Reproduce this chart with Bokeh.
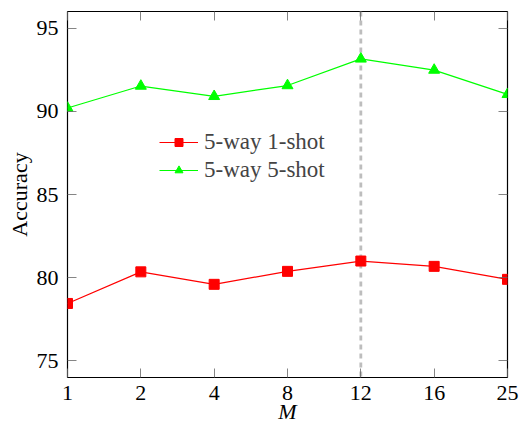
from bokeh.plotting import figure
from bokeh.models import LinearAxis, FixedTicker, Span, Range1d, Legend
from bokeh.embed import file_html
from bokeh.resources import INLINE

M_labels = ["1", "2", "4", "8", "12", "16", "25"]
acc_1shot = [78.45, 80.35, 79.6, 80.38, 81.0, 80.68, 79.9]
acc_5shot = [90.2, 91.52, 90.9, 91.55, 93.15, 92.48, 91.02]
y_ticks = [75, 80, 85, 90, 95]
highlight = "12"

FONT = "Liberation Serif"
FS = "22px"

x = list(range(len(M_labels)))

p = figure(width=521, height=429, output_backend="svg", toolbar_location=None,
           x_range=Range1d(0, len(M_labels) - 1), y_range=Range1d(74, 96),
           x_axis_location=None, y_axis_location=None)
p.min_border_left = 67
p.min_border_right = 14
p.min_border_top = 11
p.min_border_bottom = 52
p.outline_line_color = "black"
p.outline_line_width = 1.2
p.xgrid.visible = False
p.ygrid.visible = False
p.background_fill_color = "white"
p.border_fill_color = "white"

label_map = {i: s for i, s in enumerate(M_labels)}

def style(ax, labels=True):
    ax.major_tick_in = 9
    ax.major_tick_out = 0
    ax.minor_tick_line_color = None
    ax.major_tick_line_color = "#666666"
    ax.major_tick_line_width = 0.8
    ax.axis_line_color = None
    ax.major_label_text_font = FONT
    ax.major_label_text_font_size = FS if labels else "0px"
    ax.major_label_text_color = "black"
    ax.axis_label_text_font = FONT
    ax.axis_label_text_font_size = FS
    ax.axis_label_text_font_style = "normal"
    ax.axis_label_text_color = "black"

xb = LinearAxis(ticker=FixedTicker(ticks=x), major_label_overrides=label_map,
                axis_label="M")
style(xb)
xb.axis_label_text_font_style = "italic"
xb.major_label_standoff = 8
xb.axis_label_standoff = -4
p.add_layout(xb, "below")

yl = LinearAxis(ticker=FixedTicker(ticks=y_ticks), axis_label="Accuracy")
style(yl)
yl.major_label_standoff = 9
yl.axis_label_standoff = 2
p.add_layout(yl, "left")

xt = LinearAxis(ticker=FixedTicker(ticks=x), major_label_overrides={i: "" for i in x})
style(xt, labels=False)
xt.major_label_standoff = 0
xt.axis_label_standoff = 0
p.add_layout(xt, "above")

yr = LinearAxis(ticker=FixedTicker(ticks=y_ticks), major_label_overrides={t: "" for t in y_ticks})
style(yr, labels=False)
yr.major_label_standoff = 0
yr.axis_label_standoff = 0
p.add_layout(yr, "right")

span = Span(location=M_labels.index(highlight), dimension="height",
            line_color="#bdbdbd", line_width=2.8, line_dash="5 4", level="underlay")
p.add_layout(span)

r1l = p.line(x, acc_1shot, line_color="#ff0000", line_width=1.2)
r1s = p.scatter(x, acc_1shot, marker="square", size=10, fill_color="#ff0000", line_color="#ff0000")
r2l = p.line(x, acc_5shot, line_color="#00ff00", line_width=1.2)
r2s = p.scatter(x, acc_5shot, marker="triangle", size=11, fill_color="#00ff00", line_color="#00ff00")

legend = Legend(items=[("5-way 1-shot", [r1l, r1s]), ("5-way 5-shot", [r2l, r2s])],
                location=(92, 194))
legend.label_text_font = FONT
legend.label_text_font_size = "23px"
legend.glyph_width = 39
legend.glyph_height = 20
legend.label_height = 20
legend.label_standoff = 6
legend.spacing = 2
legend.padding = 2
legend.margin = 0
legend.border_line_color = None
legend.background_fill_alpha = 0
p.add_layout(legend, "center")

open("out.html", "w").write(file_html(p, INLINE))
